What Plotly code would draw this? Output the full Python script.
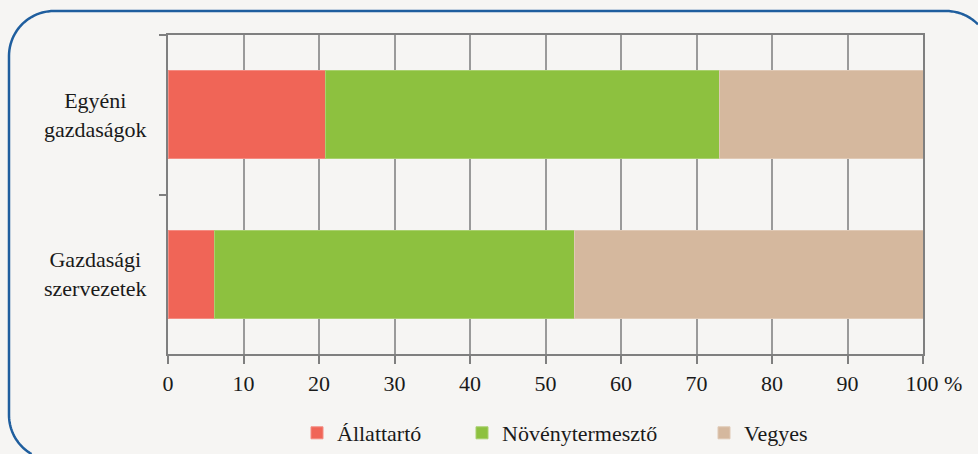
import math
import plotly.graph_objects as go

categories = ["Egyéni<br>gazdaságok", "Gazdasági<br>szervezetek"]
series_names = ["Állattartó", "Növénytermesztő", "Vegyes"]
allattarto = [20.9, 6.1]
novenytermeszto = [52.1, 47.8]
vegyes = [27.0, 46.1]
x_tick_vals = [0, 10, 20, 30, 40, 50, 60, 70, 80, 90, 100]
x_tick_text = ["0", "10", "20", "30", "40", "50", "60", "70", "80", "90",
               "\u00a0\u00a0\u00a0\u00a0100 %"]

colors = ["#F06557", "#8DC13F", "#D5B89E"]
edge = ["#F48C82", "#A9D06E", "#E0C9B5"]
values = [allattarto, novenytermeszto, vegyes]
legend_ids = ["legend", "legend2", "legend3"]
legend_text_px = [337, 502, 744]

W, H = 978, 454
L, R, T, B = 168, 923, 35, 354
FONT = "Liberation Serif, Times New Roman, serif"
FS = 22

fig = go.Figure()
for name, vals, c, e, lg in zip(series_names, values, colors, edge, legend_ids):
    fig.add_trace(go.Bar(
        y=categories, x=vals, name=name, orientation="h", legend=lg,
        marker=dict(color=c, line=dict(color=e, width=1)),
    ))


def xp(px):
    return (px - L) / (R - L)


def yp(py):
    return (B - py) / (B - T)


# rounded frame: only the part inside the canvas (pixel geometry -> paper)
x0, x1, y0, y1, r = 9, 991, 11, 460, 45


def arc(cx, cy, a0, a1, n=24):
    out = []
    for i in range(n + 1):
        a = math.radians(a0 + (a1 - a0) * i / n)
        out.append((cx + r * math.cos(a), cy + r * math.sin(a)))
    return out


pts = []
a_start = math.degrees(math.asin((H - (y1 - r)) / r))
pts += arc(x0 + r, y1 - r, 180 - a_start, 180)
pts += [(x0, y0 + r)]
pts += arc(x0 + r, y0 + r, 180, 270)
pts += [(x1 - r, y0)]
a_end = math.degrees(math.acos((W - (x1 - r)) / r))
pts += arc(x1 - r, y0 + r, 270, 360 - a_end)
path = "M " + " L ".join(f"{xp(px):.5f},{yp(py):.5f}" for px, py in pts)
fig.add_shape(type="path", path=path, xref="paper", yref="paper",
              line=dict(color="#1F5E9E", width=2.5), layer="below")

for cat in categories:
    fig.add_annotation(x=xp(95), y=cat, xref="paper", yref="y", text=cat,
                       showarrow=False, align="center", xanchor="center",
                       yanchor="middle",
                       font=dict(family=FONT, size=FS, color="#1a1a1a"))

legend_common = dict(orientation="h", xanchor="left", yanchor="middle",
                     xref="container", yref="container",
                     y=1 - 433 / H,
                     font=dict(family=FONT, size=FS, color="#1a1a1a"),
                     bgcolor="rgba(0,0,0,0)", borderwidth=0)

fig.update_layout(
    width=W, height=H,
    margin=dict(l=L, r=W - R, t=T, b=H - B, pad=0, autoexpand=False),
    paper_bgcolor="#F6F5F3", plot_bgcolor="#F6F5F3",
    barmode="stack", bargap=0.448,
    font=dict(family=FONT, size=FS, color="#1a1a1a"),
    showlegend=True,
    legend=dict(x=(legend_text_px[0] - 40) / W, **legend_common),
    legend2=dict(x=(legend_text_px[1] - 40) / W, **legend_common),
    legend3=dict(x=(legend_text_px[2] - 40) / W, **legend_common),
    xaxis=dict(range=[0, 100], tickvals=x_tick_vals, ticktext=x_tick_text,
               showgrid=True, gridcolor="#9A9A9A", gridwidth=1.5,
               showline=True, linecolor="#7F7F7F", linewidth=2, mirror=True,
               ticks="outside", ticklen=8, tickwidth=2, tickcolor="#7F7F7F",
               ticklabelstandoff=1, automargin=False,
               zeroline=False, fixedrange=True,
               tickfont=dict(family=FONT, size=FS, color="#1a1a1a")),
    yaxis=dict(categoryorder="array", categoryarray=categories,
               autorange="reversed", showticklabels=False,
               tickson="boundaries", ticks="outside", ticklen=7, tickwidth=2,
               tickcolor="#7F7F7F", showgrid=False, automargin=False,
               showline=True, linecolor="#7F7F7F", linewidth=2, mirror=True,
               zeroline=False, fixedrange=True),
)

css_fix = (
    "var s=document.createElement('style');"
    "s.textContent='html,body{margin:0;padding:0;overflow:hidden;"
    "background:#F6F5F3;}';"
    "document.head.appendChild(s);"
)

fig.write_html("out.html", config={"displayModeBar": False},
               post_script=css_fix)
